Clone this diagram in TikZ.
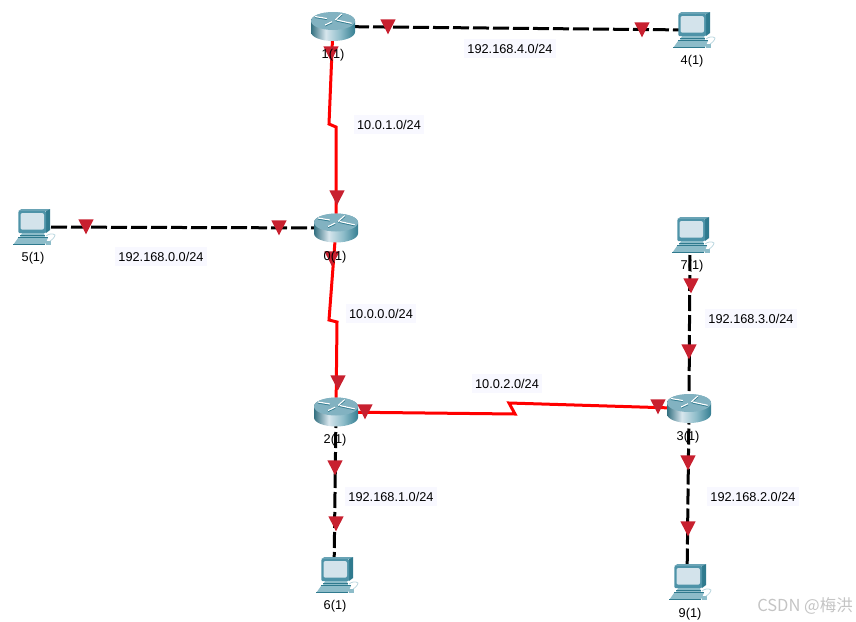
\documentclass[tikz,border=0pt]{standalone}
\usepackage{fontspec}
\setmainfont{Liberation Sans}
\newfontfamily\cjk{Noto Sans CJK SC}
\usetikzlibrary{arrows.meta,positioning,shapes.geometric,backgrounds}

\definecolor{flagred}{HTML}{C8202F}
\definecolor{lblbg}{HTML}{F8F8FF}
\definecolor{tealdark}{HTML}{2F7A8E}
\definecolor{tealmid}{HTML}{4E93A8}
\definecolor{teallight}{HTML}{8DBCC9}
\definecolor{screenblue}{HTML}{D3E3EB}
\definecolor{routertop}{HTML}{82B2C1}
\definecolor{marktxt}{HTML}{C4C4C4}

\pgfdeclarehorizontalshading{routerside}{100bp}{
  color(0bp)=(tealdark); color(25bp)=(tealdark!85!black);
  color(42bp)=(screenblue!90!white); color(58bp)=(teallight);
  color(75bp)=(tealdark); color(100bp)=(tealdark)}

\newcommand{\routericon}{
  \shade[shading=routerside] (-22,-5.5) -- (-22,5.5) arc[start angle=180, end angle=0, x radius=22, y radius=9]
    -- (22,-5.5) arc[start angle=0, end angle=-180, x radius=22, y radius=9] -- cycle;
  \fill[routertop] (0,-5.5) ellipse[x radius=22, y radius=9];
  \draw[tealdark, line width=2pt] (-18,-9.5) -- (-6,-7.5) (2,-6) -- (8.7,-12) (-8,-1) -- (-1,-4.3) (3.7,-6) -- (18.7,-2.7);
  \draw[white, line width=1.2pt] (-18,-10) -- (-6,-8) (2,-6.5) -- (8.7,-12.5) (-8,-1.5) -- (-1,-4.8) (3.7,-6.5) -- (18.7,-3.2);
}

\newcommand{\pcicon}{
  \fill[tealmid!85!white] (-12.7,-16) -- (-9.5,-18) -- (19,-18) -- (15,-16) -- cycle;
  \fill[tealdark] (15,-16) -- (19,-18) -- (19,3) -- (15,6) -- cycle;
  \fill[tealmid, rounded corners=1pt] (-12.7,-16) rectangle (15,6);
  \fill[screenblue, rounded corners=2pt] (-10.5,-14) rectangle (13,2.7);
  \fill[teallight] (-9,6) -- (13,6) -- (14,10) -- (-11,10) -- cycle;
  \draw[tealdark, line width=0.7pt] (-11,8) -- (14,8);
  \fill[teallight] (-17.7,17.7) -- (-12.7,10.7) -- (17,10.7) -- (14,17.7) -- cycle;
  \draw[tealdark, line width=0.8pt] (-17.7,17.7) -- (14,17.7) (-12.7,10.7) -- (17,10.7);
  \fill[teallight] (15,13.5) rectangle (20,17.7);
  \draw[teallight!60!white, line width=0.8pt] (15,9) .. controls (17,7) and (22,6) .. (24,8) .. controls (24,10) and (21,13) .. (19,14);
}

\begin{document}
\begin{tikzpicture}[
            x=1pt, y=-1pt,
            font=\fontsize{12.75pt}{14pt}\selectfont,
            router/.style={minimum width=46pt, minimum height=30pt, inner sep=0pt,
            path picture={\routericon}},
            pc/.style={minimum width=50pt, minimum height=38pt, inner sep=0pt,
            path picture={\pcicon}},
            flag/.style={isosceles triangle, isosceles triangle apex angle=54,
            shape border rotate=-90, minimum height=15pt, inner sep=0pt, fill=flagred, yshift=1pt},
            serial/.style={red, line width=3pt},
            copper/.style={black, line width=3pt, dash pattern=on 16pt off 4pt},
            netlbl/.style={fill=lblbg, inner xsep=3pt, inner ysep=5pt, yshift=-0.7pt},
            devlbl/.style={inner sep=0pt, yshift=-1pt}
        ]
            \path[use as bounding box] (0,0) rectangle (856,621);

% --- routers ---
            \node[router]                                   (r1) at (333,26.5)  {};
            \node[router]                                   (r0) at (336,228)   {};
            \node[router]                                   (r2) at (336,412)   {};
            \node[router]                                   (r3) at (689,408.5) {};

% --- end hosts ---
            \node[pc]                                       (pc4) at (691,30)  {};
            \node[pc]                                       (pc5) at (31,227)  {};
            \node[pc]                                       (pc7) at (690,235) {};
            \node[pc]                                       (pc6) at (334,575) {};
            \node[pc]                                       (pc9) at (687,582) {};

% --- jogs on the serial links ---
            \coordinate (j1a) at (329,124);
            \coordinate (j1b) at (336,127);
            \coordinate (j0a) at (329,320);
            \coordinate (j0b) at (337,322);
            \coordinate (j2a) at (515,414);
            \coordinate (j2b) at (509,403);

            \begin{scope}[on background layer]
% serial links
            \draw[serial] (r1.center) -- (j1a) -- (j1b) -- (r0.center);
            \draw[serial] (r0.center) -- (j0a) -- (j0b) -- (r2.center);
            \draw[serial] (r2.center) -- (j2a) -- (j2b) -- (r3.center);

% copper links
            \draw[copper] (r1.center) -- (pc4.center);
            \draw[copper] (pc5.center) -- (r0.center);
            \draw[copper] (pc7.center) -- (r3.center);
            \draw[copper] (r2.center) -- (pc6.center);
            \draw[copper] (r3.center) -- (pc9.center);
            \end{scope}

% --- link markers ---
            \node[flag] (m1)  at (388,25)  {};
            \node[flag] (m2)  at (642,28)  {};
            \node[flag] (m3)  at (86,225)  {};
            \node[flag] (m4)  at (279,226) {};
            \node[flag] (m5)  at (331,52)  {};
            \node[flag] (m6)  at (337,196) {};
            \node[flag] (m7)  at (332,257) {};
            \node[flag] (m8)  at (338,381) {};
            \node[flag] (m9)  at (365,410) {};
            \node[flag] (m10) at (658,405) {};
            \node[flag] (m11) at (335,466) {};
            \node[flag] (m12) at (336,522) {};
            \node[flag] (m13) at (691,284) {};
            \node[flag] (m14) at (689,350) {};
            \node[flag] (m15) at (688,461) {};
            \node[flag] (m16) at (688,527) {};

% --- device names ---
            \node[devlbl] (n1) at (333,54)  {1(1)};
            \node[devlbl] (n0) at (335,256) {0(1)};
            \node[devlbl] (n2) at (335,439) {2(1)};
            \node[devlbl] (n3) at (688,436) {3(1)};
            \node[devlbl] (n4) at (692,60)  {4(1)};
            \node[devlbl] (n5) at (33,257)  {5(1)};
            \node[devlbl] (n6) at (335,605) {6(1)};
            \node[devlbl] (n7) at (692,265) {7(1)};
            \node[devlbl] (n9) at (690,613) {9(1)};

% --- network labels ---
            \node[netlbl] (net4)  at (510,48)  {192.168.4.0/24};
            \node[netlbl] (net11) at (389,124) {10.0.1.0/24};
            \node[netlbl] (net0)  at (161,256) {192.168.0.0/24};
            \node[netlbl] (net10) at (381,313) {10.0.0.0/24};
            \node[netlbl] (net3)  at (751,318) {192.168.3.0/24};
            \node[netlbl] (net12) at (507,383) {10.0.2.0/24};
            \node[netlbl] (net1)  at (391,496) {192.168.1.0/24};
            \node[netlbl] (net2)  at (753,496) {192.168.2.0/24};

            \node[text=marktxt, font=\cjk\fontsize{16.5pt}{18pt}\selectfont, inner sep=0pt] (mark) at (805,606) {CSDN @梅洪};
        \end{tikzpicture}
\end{document}
